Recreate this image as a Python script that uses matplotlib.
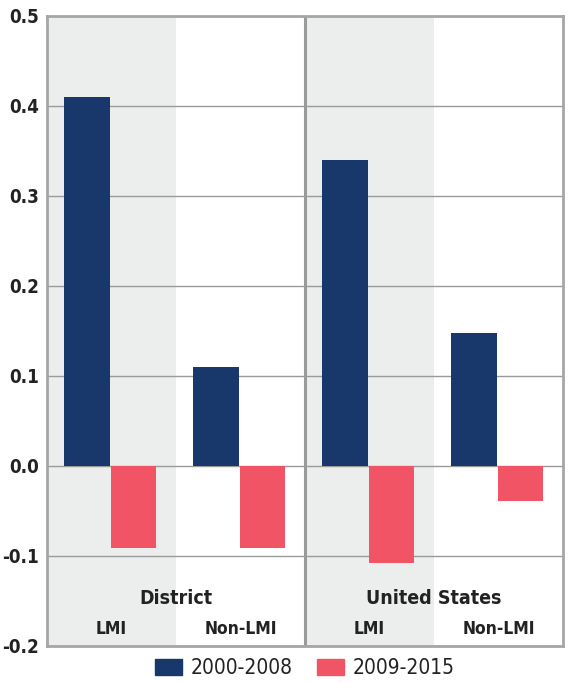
import numpy as np
import matplotlib
matplotlib.use('Agg')
import matplotlib.pyplot as plt
from matplotlib.patches import Patch

plt.rcParams['font.family'] = ['DejaVu Sans']
plt.rcParams['font.stretch'] = 'condensed'

# Data
groups = ['District', 'United States']
categories = ['LMI', 'Non-LMI', 'LMI', 'Non-LMI']
series_labels = ['2000-2008', '2009-2015']
vals_2000_2008 = [0.41, 0.11, 0.34, 0.147]
vals_2009_2015 = [-0.091, -0.091, -0.108, -0.039]
yticks = [-0.2, -0.1, 0.0, 0.1, 0.2, 0.3, 0.4, 0.5]

navy = '#18386b'
pink = '#f15565'
grid_c = '#9a9a9a'

fig = plt.figure(figsize=(5.71, 6.83), dpi=100)
ax = fig.add_axes([0.0823, 0.0542, 0.9037, 0.923])

x = np.arange(len(categories))
w = 0.35
ax.set_xlim(-0.5, len(categories) - 0.5)
ax.set_ylim(-0.2, 0.5)

# shaded LMI bands
for i in [0, 2]:
    ax.axvspan(i - 0.5, i + 0.5, color='#eceeed', zorder=0, lw=0)

for t in yticks:
    ax.axhline(t, color=grid_c, lw=1.0, zorder=1)
ax.axvline(1.5, color=grid_c, lw=2.2, zorder=1)

ax.bar(x - 0.19, vals_2000_2008, width=w, color=navy, zorder=2)
ax.bar(x + 0.17, vals_2009_2015, width=w, color=pink, zorder=2)

for s in ax.spines.values():
    s.set_color('#a6a6a6')
    s.set_linewidth(2)

ax.set_yticks(yticks)
ax.set_yticklabels([f'{t:.1f}' for t in yticks], fontsize=13.5,
                   fontweight='bold', color='#222222')
ax.tick_params(axis='y', length=0, pad=6)
ax.set_xticks([])

for i, c in enumerate(categories):
    ax.text(i, -0.1815, c, ha='center', va='center', fontsize=12.5, fontweight='bold', color='#222222')
for j, g in enumerate(groups):
    ax.text(2 * j + 0.5, -0.147, g, ha='center', va='center', fontsize=14, fontweight='bold', color='#222222')

handles = [Patch(color=navy), Patch(color=pink)]
fig.legend(handles, series_labels, loc='center', bbox_to_anchor=(0.534, 0.022), ncol=2,
           frameon=False, fontsize=15, handlelength=1.3, handleheight=0.8,
           handletextpad=0.4, columnspacing=1.2, borderpad=0, labelcolor='#222222')

fig.savefig('out.png', dpi=100)
